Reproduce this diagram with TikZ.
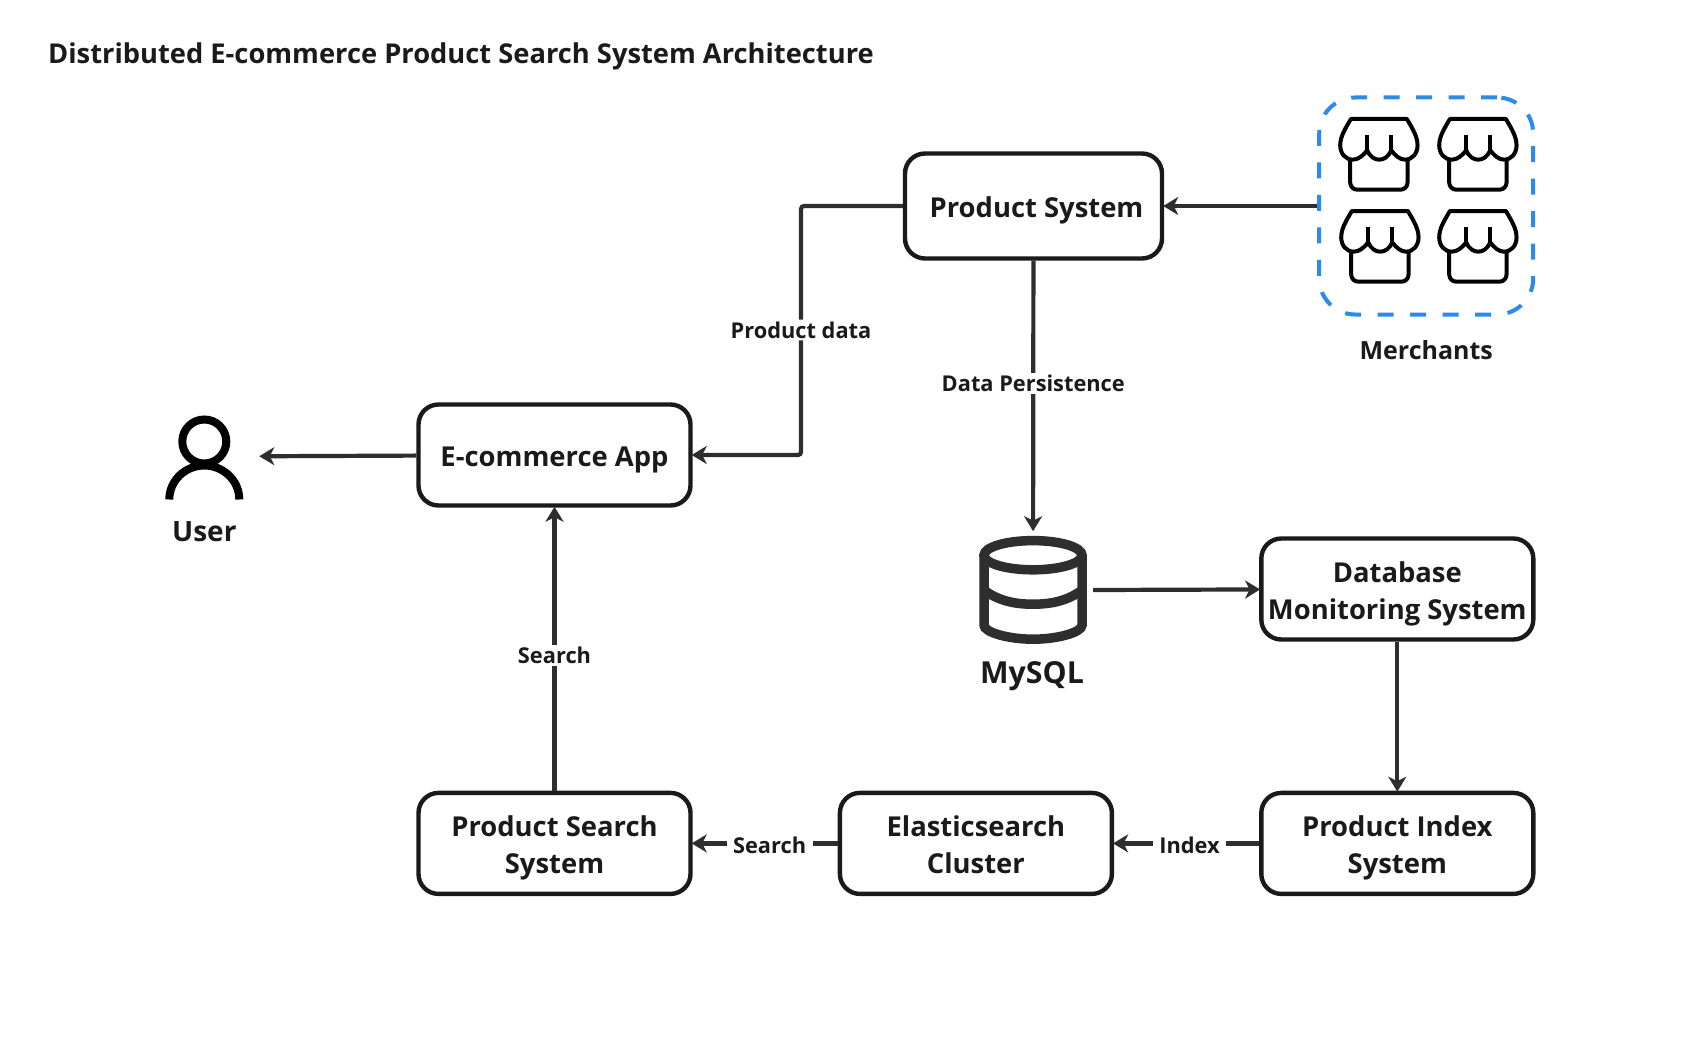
\documentclass[tikz,border=0pt]{standalone}
\usepackage{fontspec}
\setmainfont{Open Sans}
\usetikzlibrary{positioning,arrows.meta}
\definecolor{inkline}{HTML}{2E2E2E}
\definecolor{inktext}{HTML}{1A1A1A}
\definecolor{dashblue}{HTML}{2B8AEE}
\newcommand{\boxup}{\rule{0pt}{30pt}}
\newcommand{\boxdn}{\rule[-7pt]{0pt}{7pt}}
\tikzset{
     box/.style={draw=inktext, fill=white, line width=4.4pt, rounded corners=20pt, align=center,
                 minimum width=272pt, minimum height=101pt, inner sep=0pt, text=inktext,
                 font=\fontsize{27.4}{37}\selectfont\bfseries},
     arrow/.style={-{Stealth[length=15pt,width=18pt,inset=4.5pt]}, draw=inkline, line width=4.2pt, shorten >=-1pt},
     edgelabel/.style={fill=white, text=inktext, inner xsep=6.5pt, inner ysep=2pt,
                 font=\fontsize{21.8}{26}\selectfont\bfseries},
     dashbox/.style={draw=dashblue, line width=4pt, rounded corners=36pt, dash pattern=on 16pt off 16.5pt,
                 minimum width=214pt, minimum height=217pt, inner sep=0pt},
     iconbox/.style={inner sep=0pt, outer sep=0pt},
     iconlabel/.style={inner sep=0pt, text=inktext},
     shop/.pic={
        \begin{scope}[scale=0.3333, line width=4pt, line join=round, draw=black]
        \draw (38,6) -- (206,6) .. controls (225,38) and (238,60) .. (238,85)
           .. controls (238,110) and (222,128) .. (200,128) .. controls (185,128) and (170,115) .. (159,100)
           .. controls (150,120) and (137,128) .. (123,128) .. controls (109,128) and (96,120) .. (87,100)
           .. controls (76,115) and (60,128) .. (44,128) .. controls (22,128) and (6,110) .. (6,85)
           .. controls (6,60) and (19,38) .. (38,6) -- cycle;
        \draw (87,55) -- (87,100);
        \draw (159,55) -- (159,100);
        \draw[rounded corners=7pt] (36,128) -- (36,218) -- (208,218) -- (208,128);
        \end{scope}
     },
     person/.pic={
        \draw[line width=8pt, black] (0,-16) circle[radius=22pt];
        \draw[line width=8pt, black] (-35,42) .. controls (-35,23) and (-19,8) .. (0,8)
           .. controls (19,8) and (35,23) .. (35,42);
     },
     dbstack/.pic={
        \draw[line width=9.5pt, inkline] (0,-35) ellipse[x radius=49pt, y radius=14.6pt];
        \draw[line width=9.5pt, inkline] (-49,-35) -- (-49,35) .. controls (-49,42) and (-25,49) .. (0,49)
           .. controls (25,49) and (49,42) .. (49,35) -- (49,-35);
        \draw[line width=9.5pt, inkline] (-49,0) .. controls (-35,10) and (-20,14) .. (0,14)
           .. controls (20,14) and (35,10) .. (49,0);
     }
}

\begin{document}
\begin{tikzpicture}[x=1pt, y=-1pt]
    \useasboundingbox (0,0) rectangle (1688,1038);
    \node [anchor=west, inner sep=0pt, text=inktext, font=\fontsize{27.3}{32}\selectfont\bfseries] (title) at (48,56)
        {Distributed E-commerce Product Search System Architecture};

    \node [box, minimum width=257pt, minimum height=105pt] (product) at (1033.5,206) {\boxup\hspace*{6pt}Product System\boxdn};
    \node [box] (ecom) at (554.5,455) {\boxup E-commerce App\boxdn};
    \node [box, below=283pt of ecom] (search) {\boxup Product Search\\System\boxdn};
    \node [box, right=145pt of search] (cluster) {\boxup Elasticsearch\\Cluster\boxdn};
    \node [box, right=145pt of cluster] (index) {\boxup Product Index\\System\boxdn};
    \node [box, above=149pt of index] (monitor) {\boxup Database\\Monitoring System\boxdn};

    \node [iconbox, minimum width=120pt, minimum height=120pt, below=269.5pt of product, xshift=-0.5pt] (mysql) {};
    \node [iconbox, minimum width=112pt, minimum height=84pt, left=156pt of ecom, yshift=-1.5pt] (user) {};
    \node [dashbox, right=153pt of product] (merchants) {};

    \node [iconlabel, font=\fontsize{30.3}{34}\selectfont\bfseries, below=11pt of mysql, xshift=-1pt] (mysqllabel) {MySQL};
    \node [iconlabel, font=\fontsize{28}{32}\selectfont\bfseries, below=23pt of user] (userlabel) {User};
    \node [iconlabel, font=\fontsize{25}{30}\selectfont\bfseries, below=24pt of merchants] (merchantslabel) {Merchants};

    \pic at (mysql.center) {dbstack};
    \pic at ([yshift=-1pt]user.center) {person};
    \pic at ([shift={(-88,-89)}]merchants.center) {shop};
    \pic at ([shift={(11,-89)}]merchants.center) {shop};
    \pic at ([shift={(-87,3)}]merchants.center) {shop};
    \pic at ([shift={(11,3)}]merchants.center) {shop};

    \coordinate (elbow) at (801,330);

    \draw [arrow] (merchants) -- (product);
    \draw [arrow, rounded corners=3pt] (product.west) -| (elbow) node [edgelabel] {Product data} |- (ecom.east);
    \draw [arrow] (product) -- node [edgelabel, pos=0.455] {Data Persistence} (mysql);
    \draw [arrow] (ecom) -- (user);
    \draw [arrow] (search) -- node [edgelabel, pos=0.478] {Search} (ecom);
    \draw [arrow] (mysql) -- (monitor);
    \draw [arrow] (monitor) -- (index);
    \draw [arrow] (index) -- node [edgelabel, pos=0.48, yshift=-2pt] {Index} (cluster);
    \draw [arrow] (cluster) -- node [edgelabel, pos=0.47, yshift=-2pt] {Search} (search);
\end{tikzpicture}
\end{document}
